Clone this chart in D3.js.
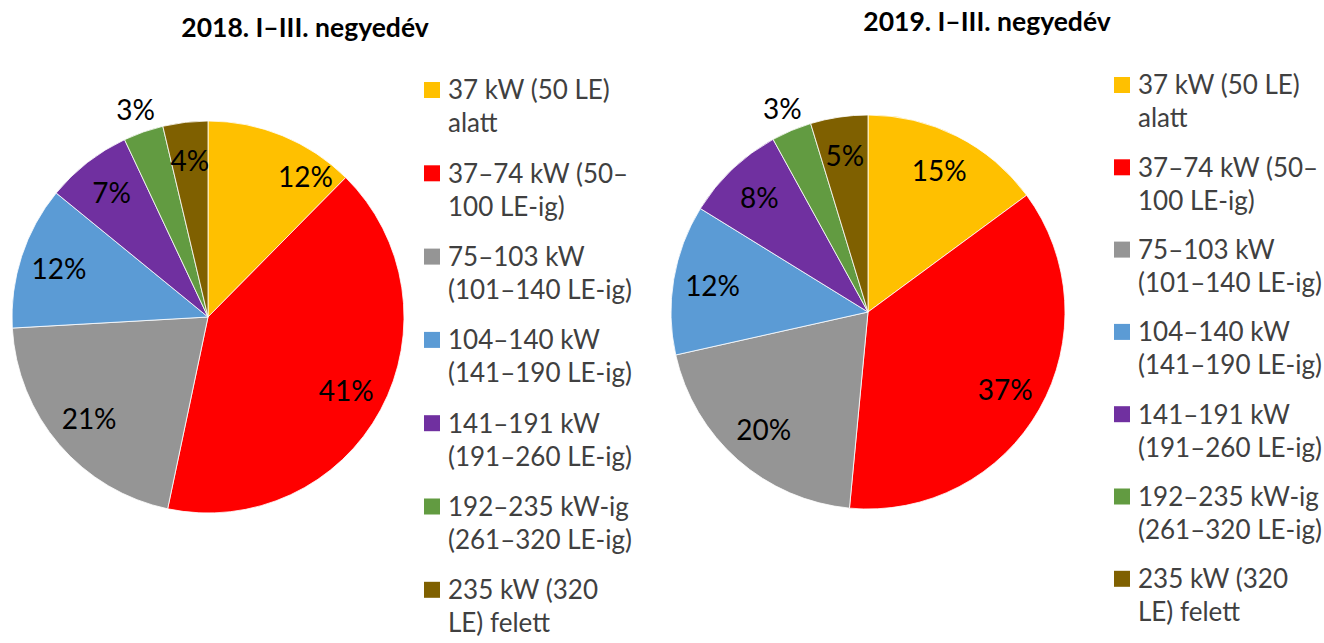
<!DOCTYPE html>
<html>
<head>
<meta charset="utf-8">
<script src="https://cdn.jsdelivr.net/npm/d3@7"></script>
<style>
  body { margin: 0; background: #fff; }
  text { font-family: Lato, "Noto Sans", sans-serif; }
</style>
</head>
<body>
<div id="chart"></div>
<script>
// categories (legend lines)
var categories = [
  ["37 kW (50 LE)", "alatt"],
  ["37–74 kW (50–", "100 LE-ig)"],
  ["75–103 kW", "(101–140 LE-ig)"],
  ["104–140 kW", "(141–190 LE-ig)"],
  ["141–191 kW", "(191–260 LE-ig)"],
  ["192–235 kW-ig", "(261–320 LE-ig)"],
  ["235 kW (320", "LE) felett"]
];
var colors = ["#FFC000", "#FF0000", "#959595", "#5B9BD5", "#7030A0", "#629B41", "#7F6000"];

// shares in percent
var values2018 = [12.4, 40.9, 20.8, 11.8, 7.1, 3.3, 3.7];
var values2019 = [14.9, 36.6, 20.0, 12.3, 8.2, 3.3, 4.7];
var titles = ["2018. I–III. negyedév", "2019. I–III. negyedév"];

var svg = d3.select("#chart").append("svg").attr("width", 1324).attr("height", 643);

// layout for the two panels
var panels = [
  {values: values2018, title: titles[0], cx: 208, cy: 317, r: 196, tx: 305, ty: 37,
   lx: 424, ly: 90, lstep: 83.3, nudge: {0: {da: 12.5, k: 0.87}}},
  {values: values2019, title: titles[1], cx: 868, cy: 312, r: 197, tx: 987, ty: 31,
   lx: 1114, ly: 85, lstep: 82.3, nudge: {}}
];

var pie = d3.pie().sort(null).value(d => d);

panels.forEach(function(p) {
  var g = svg.append("g").attr("transform", "translate(" + p.cx + "," + p.cy + ")");
  var arc = d3.arc().innerRadius(0).outerRadius(p.r);
  var arcs = pie(p.values);

  g.selectAll("path")
    .data(arcs)
    .enter().append("path")
    .attr("d", arc)
    .attr("fill", (d, i) => colors[i])
    .attr("stroke", "#fff")
    .attr("stroke-width", 0.8);

  // percent labels
  g.selectAll("text.lbl")
    .data(arcs)
    .enter().append("text")
    .attr("class", "lbl")
    .attr("text-anchor", "middle")
    .attr("dy", "0.36em")
    .attr("font-size", 28)
    .attr("fill", "#000")
    .attr("transform", function(d, i) {
      var a = (d.startAngle + d.endAngle) / 2;
      var k = d.data < 3.5 ? 1.12 : 0.8;
      var n = p.nudge[i];
      if (n) { a += n.da * Math.PI / 180; k = n.k; }
      return "translate(" + (Math.sin(a) * p.r * k) + "," + (-Math.cos(a) * p.r * k) + ")";
    })
    .text(d => Math.round(d.data) + "%");

  svg.append("text")
    .attr("x", p.tx).attr("y", p.ty)
    .attr("text-anchor", "middle")
    .attr("font-size", 26.5)
    .attr("font-weight", "bold")
    .attr("fill", "#000")
    .text(p.title);

  // legend
  var leg = svg.append("g");
  var items = leg.selectAll("g")
    .data(categories)
    .enter().append("g")
    .attr("transform", (d, i) => "translate(" + p.lx + "," + (p.ly + i * p.lstep) + ")");
  items.append("rect")
    .attr("x", 0).attr("y", -8)
    .attr("width", 16).attr("height", 16)
    .attr("fill", (d, i) => colors[i]);
  items.each(function(d) {
    var t = d3.select(this).append("text")
      .attr("x", 24).attr("y", 0)
      .attr("font-size", 26)
      .attr("fill", "#404040");
    d.forEach(function(line, j) {
      t.append("tspan").attr("x", 24).attr("y", j * 33).attr("dy", "0.36em").text(line);
    });
  });
});
</script>
</body>
</html>
